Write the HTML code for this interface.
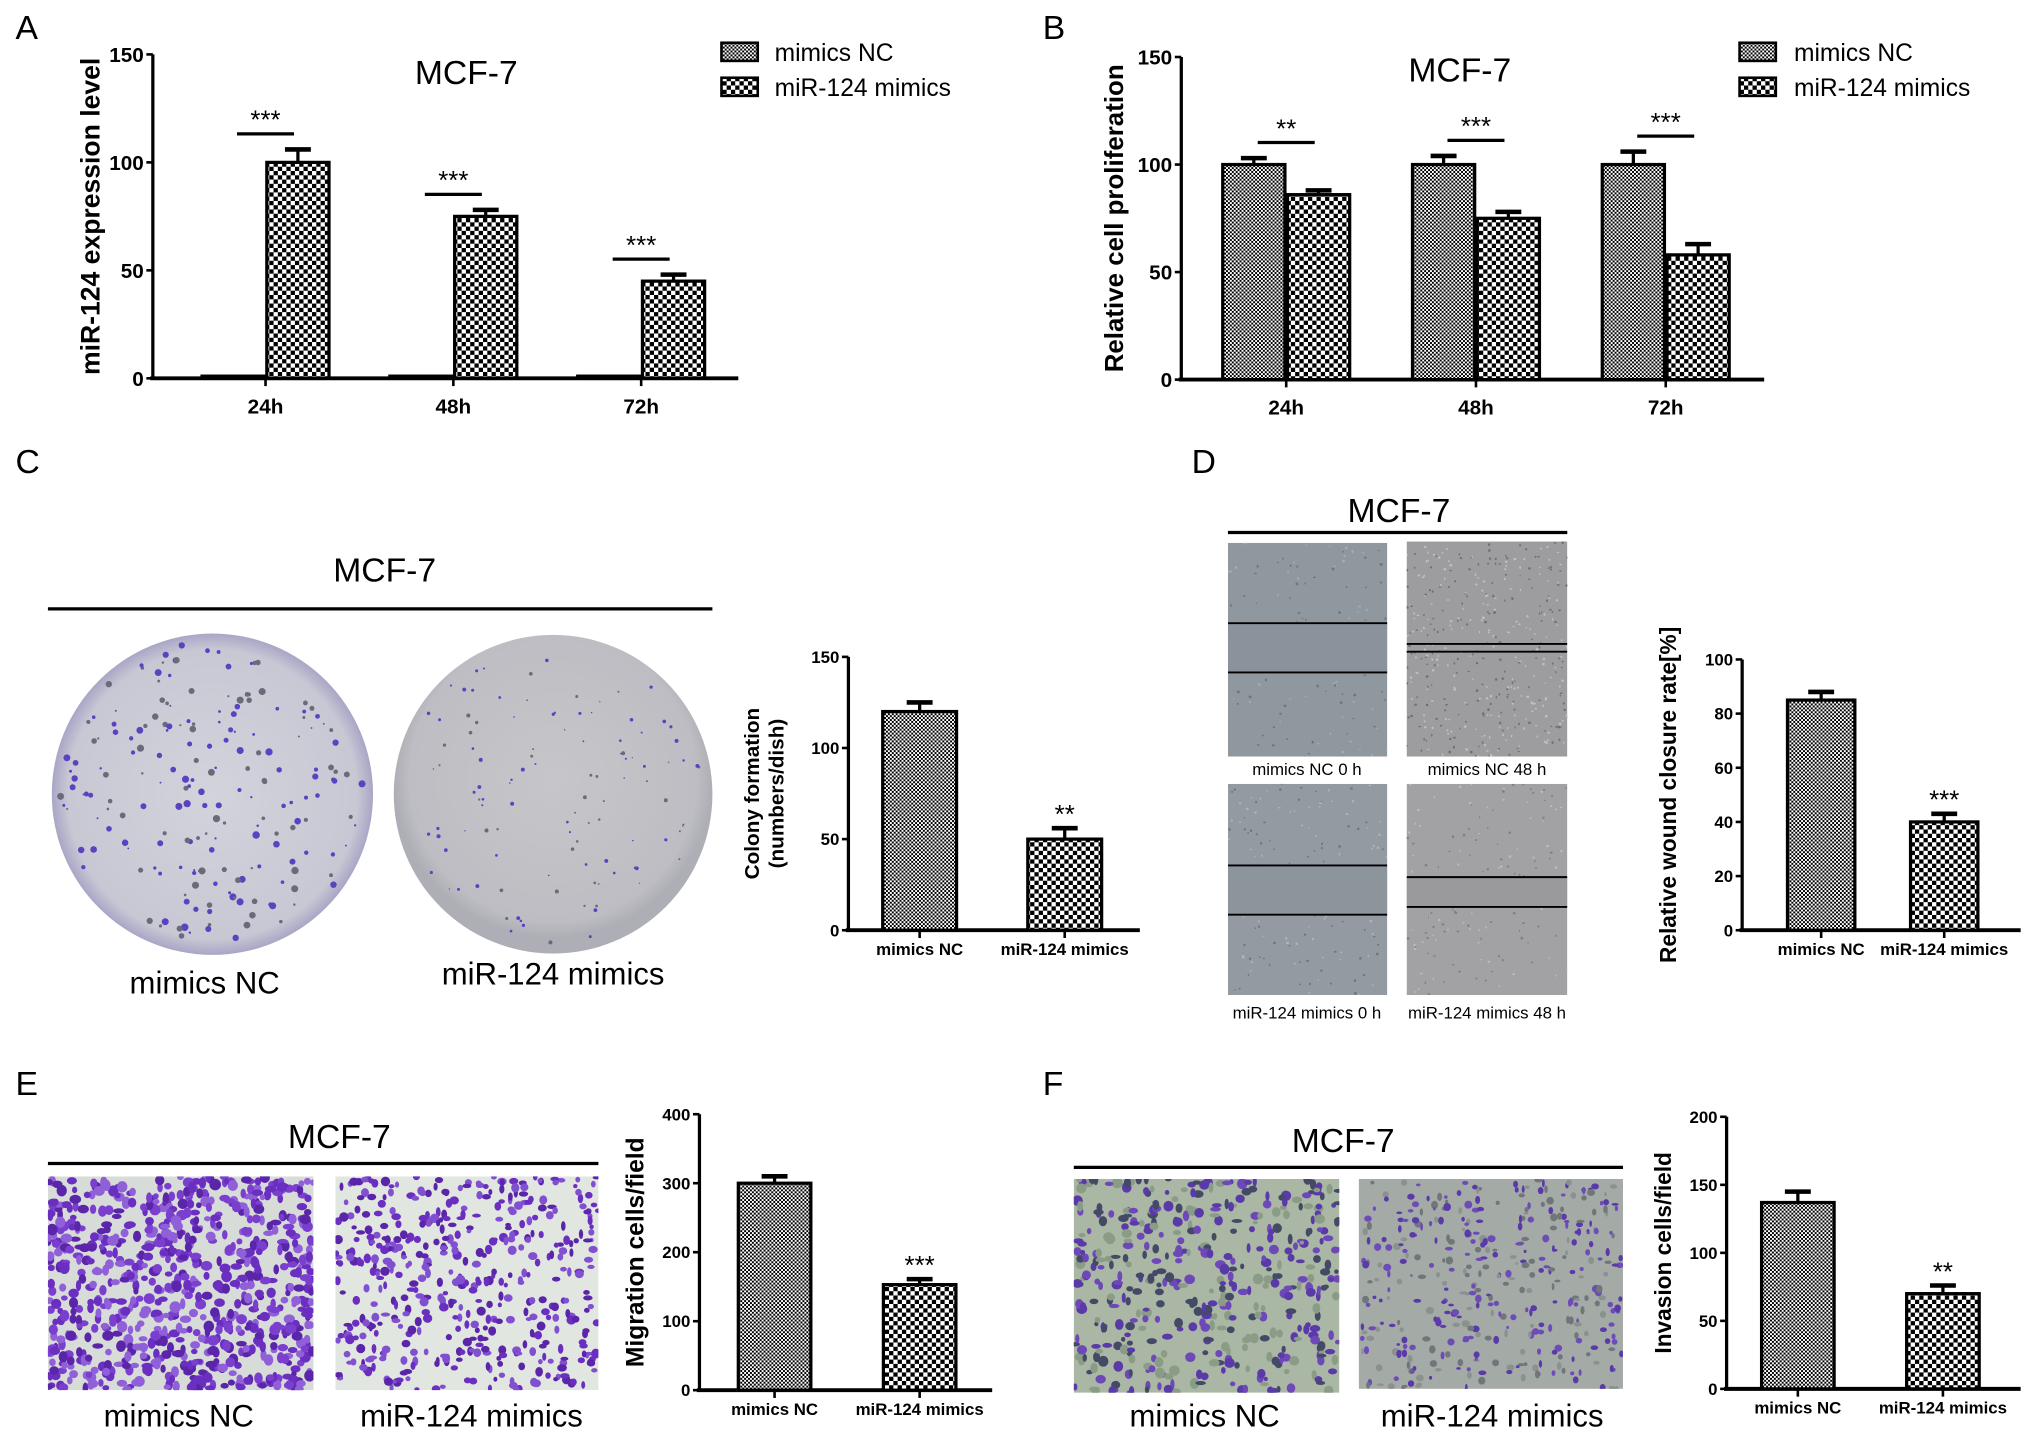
<!DOCTYPE html>
<html><head><meta charset="utf-8"><style>
html,body{margin:0;padding:0;background:#fff;}
svg{display:block;font-family:"Liberation Sans",sans-serif;}
</style></head><body>
<svg id="fig" width="2031" height="1442" viewBox="0 0 1568 1113" preserveAspectRatio="none" xmlns="http://www.w3.org/2000/svg">
<defs>
<pattern id="pNC" patternUnits="userSpaceOnUse" width="3" height="3"><rect width="3" height="3" fill="#fff"/><rect width="1.5" height="1.5" fill="#000"/><rect x="1.5" y="1.5" width="1.5" height="1.5" fill="#000"/></pattern>
<pattern id="pMim" patternUnits="userSpaceOnUse" width="6.6" height="6.6"><rect width="6.6" height="6.6" fill="#fff"/><rect width="3.3" height="3.3" fill="#000"/><rect x="3.3" y="3.3" width="3.3" height="3.3" fill="#000"/></pattern>
<radialGradient id="dish1" cx="0.5" cy="0.5" r="0.5"><stop offset="0" stop-color="#d3d3dc"/><stop offset="0.9" stop-color="#c8c8d4"/><stop offset="1" stop-color="#a9a6c6"/></radialGradient>
<radialGradient id="dish2" cx="0.5" cy="0.45" r="0.5"><stop offset="0" stop-color="#c6c6ca"/><stop offset="0.9" stop-color="#bdbdc3"/><stop offset="1" stop-color="#aeaeb6"/></radialGradient>
</defs>
<g id="imgs"></g>
<g id="charts"></g>
<g id="static" font-size="24">
<text x="12" y="30" font-size="26">A</text>
<text x="805" y="30" font-size="26">B</text>
<text x="12" y="365" font-size="26">C</text>
<text x="920" y="365" font-size="26">D</text>
<text x="12" y="845" font-size="26">E</text>
<text x="805" y="845" font-size="26">F</text>

<text x="360" y="65" font-size="26" text-anchor="middle">MCF-7</text>
<text x="1127" y="63" font-size="26" text-anchor="middle">MCF-7</text>

<g>
<rect x="557" y="33" width="28" height="14" fill="url(#pNC)" stroke="#000" stroke-width="2"/>
<text x="598" y="47" font-size="19">mimics NC</text>
<rect x="557" y="60" width="28" height="14" fill="url(#pMim)" stroke="#000" stroke-width="2"/>
<text x="598" y="74" font-size="19">miR-124 mimics</text>
</g>
<g>
<rect x="1343" y="33" width="28" height="14" fill="url(#pNC)" stroke="#000" stroke-width="2"/>
<text x="1385" y="47" font-size="19">mimics NC</text>
<rect x="1343" y="60" width="28" height="14" fill="url(#pMim)" stroke="#000" stroke-width="2"/>
<text x="1385" y="74" font-size="19">miR-124 mimics</text>
</g>

<text x="297" y="449" font-size="26" text-anchor="middle">MCF-7</text>
<line x1="37" y1="470" x2="550" y2="470" stroke="#000" stroke-width="2.5"/>
<text x="158" y="767" text-anchor="middle">mimics NC</text>
<text x="427" y="760" text-anchor="middle">miR-124 mimics</text>

<text x="1080" y="403" font-size="26" text-anchor="middle">MCF-7</text>
<line x1="948" y1="411" x2="1210" y2="411" stroke="#000" stroke-width="2.5"/>
<g font-size="13" text-anchor="middle">
<text x="1009" y="598">mimics NC 0 h</text>
<text x="1148" y="598">mimics NC 48 h</text>
<text x="1009" y="786">miR-124 mimics 0 h</text>
<text x="1148" y="786">miR-124 mimics 48 h</text>
</g>

<text x="262" y="886" font-size="26" text-anchor="middle">MCF-7</text>
<line x1="37" y1="898" x2="462" y2="898" stroke="#000" stroke-width="2.5"/>
<text x="138" y="1101" text-anchor="middle">mimics NC</text>
<text x="364" y="1101" text-anchor="middle">miR-124 mimics</text>

<text x="1037" y="889" font-size="26" text-anchor="middle">MCF-7</text>
<line x1="829" y1="901" x2="1253" y2="901" stroke="#000" stroke-width="2.5"/>
<text x="930" y="1101" text-anchor="middle">mimics NC</text>
<text x="1152" y="1101" text-anchor="middle">miR-124 mimics</text>
</g>
</svg>
<script>
// ---------- chart data ----------
const aCategories = ['24h','48h','72h'];
const aNC = [1, 1, 1];
const aNCErr = [0, 0, 0];
const aMim = [100, 75, 45];
const aMimErr = [6, 3, 3];
const aStars = ['***','***','***'];
const aTicks = [0, 50, 100, 150];

const bCategories = ['24h','48h','72h'];
const bNC = [100, 100, 100];
const bNCErr = [3, 4, 6];
const bMim = [86, 75, 58];
const bMimErr = [2, 3, 5];
const bStars = ['**','***','***'];
const bTicks = [0, 50, 100, 150];

const cCategories = ['mimics NC','miR-124 mimics'];
const cValues = [120, 50];
const cErr = [5, 6];
const cStars = ['', '**'];
const cTicks = [0, 50, 100, 150];

const dCategories = ['mimics NC','miR-124 mimics'];
const dValues = [85, 40];
const dErr = [3, 3];
const dStars = ['', '***'];
const dTicks = [0, 20, 40, 60, 80, 100];

const eCategories = ['mimics NC','miR-124 mimics'];
const eValues = [300, 153];
const eErr = [10, 8];
const eStars = ['', '***'];
const eTicks = [0, 100, 200, 300, 400];

const fCategories = ['mimics NC','miR-124 mimics'];
const fValues = [137, 70];
const fErr = [8, 6];
const fStars = ['', '**'];
const fTicks = [0, 50, 100, 150, 200];

const NS = 'http://www.w3.org/2000/svg';
const charts = document.getElementById('charts');
function mk(tag, attrs, parent, txt){
  const e = document.createElementNS(NS, tag);
  for (const k in attrs) e.setAttribute(k, attrs[k]);
  if (txt !== undefined) e.textContent = txt;
  (parent || charts).appendChild(e);
  return e;
}

function axes(g, L, ticks, tickFont){
  const y = v => L.yBot - (v - L.yMin) / (L.yMax - L.yMin) * (L.yBot - L.yTop);
  const ax = mk('line', {x1:L.x0, y1:L.yTop, x2:L.x0, y2:L.yBot, stroke:'#000','stroke-width':2.5}, g);
  
  
  const xx = mk('line', {x1:L.x0-2, y1:L.yBot, x2:L.xEnd, y2:L.yBot, stroke:'#000','stroke-width':3}, g);
  
  
  ticks.forEach(t => {
    mk('line', {x1:L.x0-5, y1:y(t), x2:L.x0, y2:y(t), stroke:'#000','stroke-width':2}, g);
    const tl = mk('text', {x:L.x0-7, y:y(t)+tickFont*0.36, 'font-size':tickFont, 'font-weight':'bold', 'text-anchor':'end'}, g, String(t));
    
    
  });
  return y;
}

function bar(g, x, w, yTopPx, yBot, fill, errPx, name){
  const r = mk('rect', {x:x, y:yTopPx, width:w, height:Math.max(0,yBot-yTopPx), fill:fill, stroke:'#000','stroke-width':2.5}, g);
  
  
  if (errPx < yTopPx - 0.5) {
    const cx = x + w/2;
    const eb = mk('line', {x1:cx, y1:yTopPx, x2:cx, y2:errPx, stroke:'#000','stroke-width':2.5}, g);
    
    
    mk('line', {x1:cx-10, y1:errPx, x2:cx+10, y2:errPx, stroke:'#000','stroke-width':3.5}, g);
  }
}

function grouped(name, L, cats, nc, ncE, mim, mimE, stars, ticks){
  const g = mk('g', {});
  
  
  const y = axes(g, L, ticks, 16);
  cats.forEach((c, i) => {
    const cx = L.x0 + L.off + i * L.step;
    bar(g, cx - L.bw - 1, L.bw, y(nc[i]), L.yBot, 'url(#pNC)', y(nc[i] + ncE[i]), 'bar-nc-' + c);
    bar(g, cx + 1, L.bw, y(mim[i]), L.yBot, 'url(#pMim)', y(mim[i] + mimE[i]), 'bar-mimics-' + c);
    mk('line', {x1:cx, y1:L.yBot, x2:cx, y2:L.yBot+6, stroke:'#000','stroke-width':2}, g);
    const xl = mk('text', {x:cx, y:L.yBot+27, 'font-size':16, 'font-weight':'bold', 'text-anchor':'middle'}, g, c);
    
    
    const top = Math.max(nc[i] + ncE[i], mim[i] + mimE[i]);
    const ly = y(top) - 12;
    mk('line', {x1:cx-22, y1:ly, x2:cx+22, y2:ly, stroke:'#000','stroke-width':2.5}, g);
    const st = mk('text', {x:cx, y:ly-4, 'font-size':20, 'text-anchor':'middle'}, g, stars[i]);
    
    
  });
  const yt = mk('text', {x:L.titleX, y:(L.yTop+L.yBot)/2, 'font-size':L.tf, 'font-weight':'bold', 'text-anchor':'middle', transform:`rotate(-90 ${L.titleX} ${(L.yTop+L.yBot)/2})`}, g, L.title);
  
  
}

function pair(name, L, cats, vals, errs, stars, ticks){
  const g = mk('g', {});
  
  
  const y = axes(g, L, ticks, 13);
  const fills = ['url(#pNC)', 'url(#pMim)'];
  cats.forEach((c, i) => {
    const cx = L.x0 + L.off + i * L.step;
    bar(g, cx - L.bw/2, L.bw, y(vals[i]), L.yBot, fills[i], y(vals[i] + errs[i]), 'bar-' + i);
    mk('line', {x1:cx, y1:L.yBot, x2:cx, y2:L.yBot+6, stroke:'#000','stroke-width':2}, g);
    const xl = mk('text', {x:cx, y:L.yBot+19, 'font-size':13, 'font-weight':'bold', 'text-anchor':'middle'}, g, c);
    
    
    if (stars[i]) {
      const st = mk('text', {x:cx, y:y(vals[i] + errs[i]) - 4, 'font-size':20, 'text-anchor':'middle'}, g, stars[i]);
      
      
    }
  });
  const cy = (L.yTop + L.yBot)/2;
  L.title.forEach((t, k) => {
    const tx = L.titleX + k * 19;
    const yt = mk('text', {x:tx, y:cy, 'font-size':L.tf, 'font-weight':'bold', 'text-anchor':'middle', transform:`rotate(-90 ${tx} ${cy})`}, g, t);
    
    
  });
}

grouped('chart-a', {x0:118, xEnd:570, yTop:42, yBot:292, yMin:0, yMax:150, off:87, step:145, bw:48, titleX:77, tf:20.5, title:'miR-124 expression level'}, aCategories, aNC, aNCErr, aMim, aMimErr, aStars, aTicks);
grouped('chart-b', {x0:912, xEnd:1362, yTop:44, yBot:293, yMin:0, yMax:150, off:81, step:146.5, bw:48, titleX:867, tf:20, title:'Relative cell proliferation'}, bCategories, bNC, bNCErr, bMim, bMimErr, bStars, bTicks);
pair('chart-c', {x0:655, xEnd:880, yTop:507, yBot:718, yMin:0, yMax:150, off:55, step:112, bw:57, titleX:586, tf:16, title:['Colony formation','(numbers/dish)']}, cCategories, cValues, cErr, cStars, cTicks);
pair('chart-d', {x0:1345, xEnd:1560, yTop:509, yBot:718, yMin:0, yMax:100, off:61, step:95, bw:52, titleX:1294, tf:17.5, title:['Relative wound closure rate[%]']}, dCategories, dValues, dErr, dStars, dTicks);
pair('chart-e', {x0:540, xEnd:766, yTop:860, yBot:1073, yMin:0, yMax:400, off:58, step:112, bw:56, titleX:497, tf:19, title:['Migration cells/field']}, eCategories, eValues, eErr, eStars, eTicks);
pair('chart-f', {x0:1333, xEnd:1560, yTop:862, yBot:1072, yMin:0, yMax:200, off:55, step:112, bw:56, titleX:1290, tf:17.5, title:['Invasion cells/field']}, fCategories, fValues, fErr, fStars, fTicks);

// ---------- photographic panels (decorative textures) ----------
const imgs = document.getElementById('imgs');
let seed = 12345, clipN = 0;
function rnd(){ seed = (seed * 1103515245 + 12345) % 2147483648; return seed / 2147483648; }
function photo(name, x, y, w, h, bg, dotColors, n, rmin, rmax){
  const cid = 'clip' + (clipN++);
  const cp = mk('clipPath', {id:cid}, imgs);
  mk('rect', {x:x, y:y, width:w, height:h}, cp);
  const g = mk('g', {'clip-path':'url(#' + cid + ')'}, imgs);
  
  
  mk('rect', {x:x, y:y, width:w, height:h, fill:bg}, g);
  for (let i = 0; i < n; i++) {
    const rx = rmin + rnd()*(rmax-rmin), ry = rmin + rnd()*(rmax-rmin);
    mk('ellipse', {cx:x + rnd()*w, cy:y + rnd()*h, rx:rx, ry:ry, fill:dotColors[Math.floor(rnd()*dotColors.length)]}, g);
  }
  return g;
}
function dish(name, cx, cy, r, grad, n, big){
  const g = mk('g', {}, imgs);
  
  
  mk('ellipse', {cx:cx, cy:cy, rx:r, ry:r, fill:grad}, g);
  for (let i = 0; i < n; i++) {
    const a = rnd()*Math.PI*2, d = Math.sqrt(rnd())*r*0.95;
    const s = big ? 0.7 + rnd()*2.2 : 0.5 + rnd()*1.1;
    mk('circle', {cx:cx + Math.cos(a)*d, cy:cy + Math.sin(a)*d, r:s, fill: rnd() < 0.6 ? '#5a42c0' : '#6a6a7a'}, g);
  }
}
dish('dish-mimics-nc', 164, 613, 124, 'url(#dish1)', 200, true);
dish('dish-mir124-mimics', 427, 613, 123, 'url(#dish2)', 110, false);

const w1 = photo('wound-nc-0h', 948, 419, 123, 165, '#8f979f', ['#6d757e','#a5adb4'], 120, 0.5, 1.2);
mk('rect', {x:948, y:481, width:123, height:38, fill:'#8a939b'}, w1);
mk('line', {x1:948, y1:481, x2:1071, y2:481, stroke:'#000', 'stroke-width':1.5}, w1);
mk('line', {x1:948, y1:519, x2:1071, y2:519, stroke:'#000', 'stroke-width':1.5}, w1);
const w2 = photo('wound-nc-48h', 1086, 418, 124, 166, '#9d9d9f', ['#707074','#c0c0c2'], 400, 0.5, 1.1);
mk('line', {x1:1086, y1:497, x2:1210, y2:497, stroke:'#000', 'stroke-width':1.5}, w2);
mk('line', {x1:1086, y1:503, x2:1210, y2:503, stroke:'#000', 'stroke-width':1.5}, w2);
const w3 = photo('wound-mimics-0h', 948, 605, 123, 163, '#949aa2', ['#6e757e','#b0b5bb'], 150, 0.5, 1.1);
mk('rect', {x:948, y:668, width:123, height:38, fill:'#8c949c'}, w3);
mk('line', {x1:948, y1:668, x2:1071, y2:668, stroke:'#000', 'stroke-width':1.5}, w3);
mk('line', {x1:948, y1:706, x2:1071, y2:706, stroke:'#000', 'stroke-width':1.5}, w3);
const w4 = photo('wound-mimics-48h', 1086, 605, 124, 163, '#a2a2a4', ['#808083','#bcbcbe'], 150, 0.5, 1.1);
mk('rect', {x:1086, y:677, width:124, height:23, fill:'#9a9a9c'}, w4);
mk('line', {x1:1086, y1:677, x2:1210, y2:677, stroke:'#000', 'stroke-width':1.5}, w4);
mk('line', {x1:1086, y1:700, x2:1210, y2:700, stroke:'#000', 'stroke-width':1.5}, w4);

photo('migration-nc-image', 37, 908, 205, 165, '#d8dcd8', ['#6a2fc0','#7b3fd0','#5a25a8','#9060d8'], 800, 2, 4.5);
photo('migration-mimics-image', 259, 908, 203, 165, '#e2e6e0', ['#6a2fc0','#8050d0','#5a25a8'], 480, 1.5, 3.8);
photo('invasion-nc-image', 829, 910, 205, 165, '#a9b7a4', ['#5a3aa8','#6e48b8','#444a66','#8a9c86'], 450, 1.5, 4.2);
photo('invasion-mimics-image', 1049, 910, 204, 162, '#a4aaa6', ['#5a3aa8','#6e4cb8','#70767a','#8b918e'], 380, 1, 3.2);
</script>
</body></html>
